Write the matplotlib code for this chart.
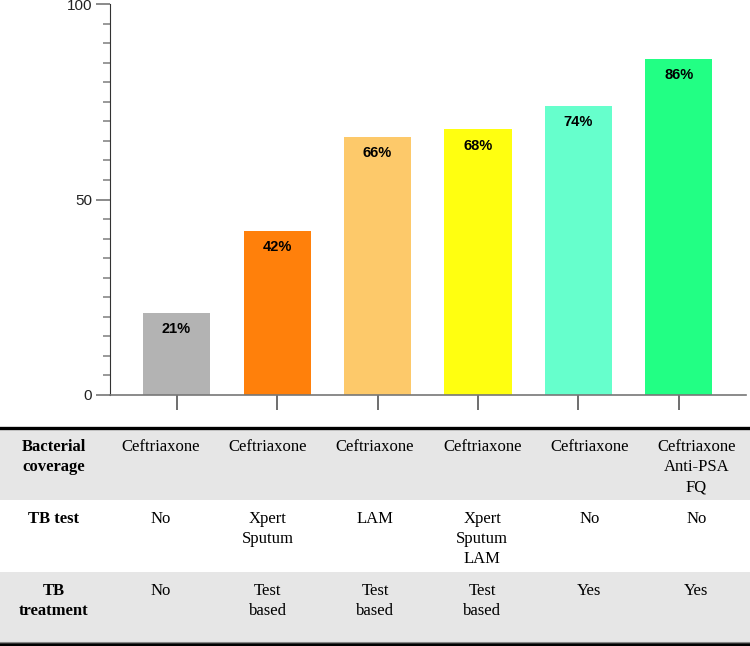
import matplotlib.pyplot as plt
from matplotlib.patches import Rectangle
from matplotlib.ticker import MultipleLocator

# bar data
coverage = [21, 42, 66, 68, 74, 86]
bar_colors = ["#b3b3b3", "#ff800b", "#fdc96a", "#ffff10", "#66ffcc", "#22ff84"]

# table below the chart
row_labels = ["Bacterial\ncoverage", "TB test", "TB\ntreatment"]
bacterial = ["Ceftriaxone", "Ceftriaxone", "Ceftriaxone", "Ceftriaxone",
             "Ceftriaxone", "Ceftriaxone\nAnti-PSA\nFQ"]
tb_test = ["No", "Xpert\nSputum", "LAM", "Xpert\nSputum\nLAM", "No", "No"]
tb_treat = ["No", "Test\nbased", "Test\nbased", "Test\nbased", "Yes", "Yes"]
table_rows = [bacterial, tb_test, tb_treat]

W, H = 750, 646
fig = plt.figure(figsize=(7.5, 6.46), dpi=100)

# ---- bar chart ----
ax = fig.add_axes([109.5 / W, 1 - 395 / H, (746 - 109.5) / W, (395 - 4) / H])
x = list(range(len(coverage)))
ax.bar(x, coverage, width=0.667, color=bar_colors)
for xi, v in zip(x, coverage):
    ax.text(xi, v - 4.2, f"{v}%", ha="center", va="center",
            fontsize=10.5, fontweight="bold", family="Liberation Sans")

ax.set_xlim(-0.667, 5.667)
ax.set_ylim(0, 100)
ax.set_yticks([0, 50, 100])
ax.yaxis.set_minor_locator(MultipleLocator(5))
ax.set_xticks(x)
ax.set_xticklabels([])
for s in ["top", "right"]:
    ax.spines[s].set_visible(False)
ax.spines["left"].set_color("#333333")
ax.spines["bottom"].set_color("#777777")
ax.spines["bottom"].set_linewidth(1.2)
ax.tick_params(axis="y", which="major", length=10, width=1.2, color="#777777",
               labelsize=11, labelcolor="#222222", pad=2.5)
ax.tick_params(axis="y", which="minor", length=5, width=1.2, color="#888888")
ax.tick_params(axis="x", which="major", length=11, width=1.2, color="#555555")
for lab in ax.get_yticklabels():
    lab.set_family("Liberation Sans")

# ---- table ----
tax = fig.add_axes([0, 0, 1, (H - 426) / H])
tax.set_xlim(0, 7)
tax.set_ylim(H, 426)
tax.axis("off")
row_top = [428, 500, 572]
row_h = [72, 72, 70]
row_fill = ["#e6e6e6", "white", "#e6e6e6"]
for r in range(3):
    tax.add_patch(Rectangle((0, row_top[r]), 7, row_h[r], color=row_fill[r], lw=0))
    tax.text(0.5, row_top[r] + 10.5, row_labels[r], ha="center", va="top",
             fontsize=12, fontweight="bold", family="Liberation Serif",
             linespacing=1.36)
    for c, txt in enumerate(table_rows[r]):
        tax.text(c + 1.5, row_top[r] + 10.5, txt, ha="center", va="top",
                 fontsize=12, family="Liberation Serif", linespacing=1.36)
tax.axhline(427.5, color="black", lw=2.4)
tax.axhline(642, color="#888888", lw=0.8)
tax.axhline(645, color="black", lw=2.6)

fig.savefig("out.png", dpi=100)
